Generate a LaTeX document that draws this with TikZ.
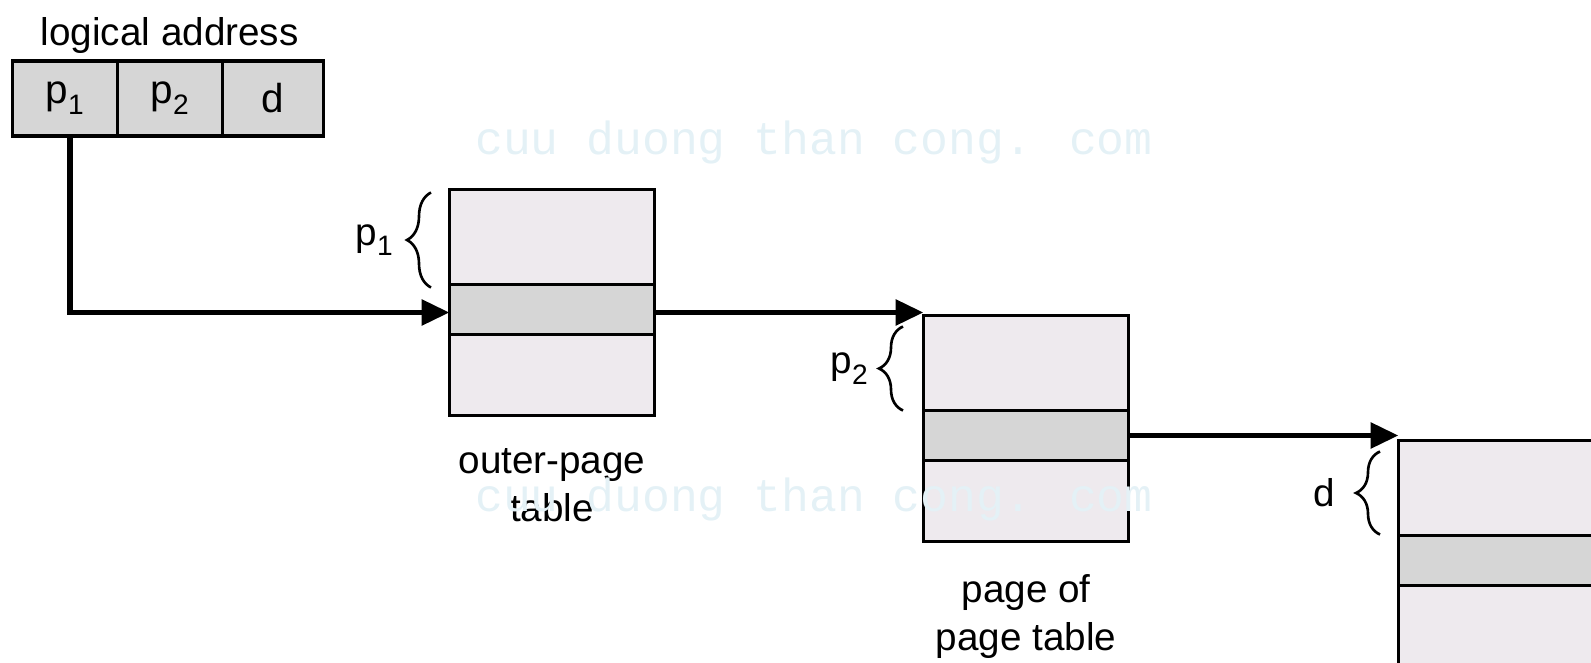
\documentclass[tikz,border=0pt]{standalone}
\usepackage{fontspec}
\setmainfont{Liberation Sans}
\newfontfamily\wmfont{Liberation Mono}
\usetikzlibrary{arrows.meta,positioning,decorations.pathreplacing}
\definecolor{slotgray}{HTML}{D6D6D6}
\definecolor{tablefill}{HTML}{EEEAEE}
\definecolor{wmblue}{HTML}{E4F1F6}
\newcommand{\lowidx}[1]{\raisebox{-0.5ex}{\fontsize{16}{16}\selectfont #1}}
\tikzset{
  cell/.style={draw, line width=1.9pt, fill=slotgray, minimum width=2.1cm, minimum height=1.5cm,
    inner sep=0pt, outer sep=0pt, font=\fontsize{23}{23}\selectfont},
  row/.style={draw, line width=1.9pt, fill=tablefill, minimum width=4.1cm, inner sep=0pt, outer sep=0pt},
  link/.style={line width=3.4pt, -{Triangle[length=0.56cm,width=0.5cm]}},
  brc/.style={decorate, decoration={brace, amplitude=0.48cm}, line width=1.5pt},
  lbl/.style={font=\fontsize{22}{27}\selectfont, inner sep=0pt, align=center},
  wm/.style={font=\wmfont\fontsize{26.4}{26.4}\selectfont, text=wmblue, inner sep=0pt}
}
\begin{document}
\begin{tikzpicture}
    \useasboundingbox (0,0) rectangle (31.82,13.24);
    % logical address
    \node[cell, anchor=north west] (p1cell) at (0.244,12.022) {p\lowidx{1}};
    \node[cell, right=0pt of p1cell] (p2cell) {p\lowidx{2}};
    \node[cell, right=0pt of p2cell, minimum width=2.03cm] (dcell) {d};
    \node[lbl, above=0.15cm of p2cell] (addrlabel) {logical address};
    % outer-page table
    \node[row, minimum height=1.9cm, anchor=north west] (outertop) at (8.99,9.45) {};
    \node[row, minimum height=1.0cm, fill=slotgray, below=0pt of outertop] (outermid) {};
    \node[row, minimum height=1.62cm, below=0pt of outermid] (outerbot) {};
    \node[lbl, below=0.66cm of outerbot] (outerlabel) {outer-page\\table};
    % page of page table
    \node[row, minimum height=1.9cm, anchor=north west] (pagetop) at (18.47,6.93) {};
    \node[row, minimum height=1.0cm, fill=slotgray, below=0pt of pagetop] (pagemid) {};
    \node[row, minimum height=1.62cm, below=0pt of pagemid] (pagebot) {};
    \node[lbl, below=0.66cm of pagebot] (pagelabel) {page of\\page table};
    % desired page
    \node[row, minimum height=1.9cm, anchor=north west] (frametop) at (27.97,4.43) {};
    \node[row, minimum height=1.0cm, fill=slotgray, below=0pt of frametop] (framemid) {};
    \node[row, minimum height=1.62cm, below=0pt of framemid] (framebot) {};
    % braces
    \draw[brc] ([xshift=-0.37cm,yshift=-0.06cm]outertop.south west) -- ([xshift=-0.37cm,yshift=-0.06cm]outertop.north west)
        node[lbl, midway, left=0.74cm] {p\lowidx{1}};
    \draw[brc] ([xshift=-0.41cm,yshift=0.0cm]pagetop.south west) -- ([xshift=-0.41cm,yshift=-0.22cm]pagetop.north west)
        node[lbl, midway, left=0.68cm] {p\lowidx{2}};
    \draw[brc] ([xshift=-0.37cm,yshift=0.02cm]frametop.south west) -- ([xshift=-0.37cm,yshift=-0.22cm]frametop.north west)
        node[lbl, midway, left=0.88cm] {d};
    % links
    \draw[link] ([xshift=0.1cm]p1cell.south) |- ([yshift=-0.06cm]outermid.west);
    \draw[link] ([yshift=-0.06cm]outermid.east) -- ([yshift=-0.06cm]outermid.east -| pagetop.west);
    \draw[link] (pagemid.east) -- (pagemid.east -| frametop.west);
    % watermark
    \node[wm] (wmtop) at (16.28,10.4) {cuu duong than cong. com};
    \node[wm] (wmbot) at (16.28,3.26) {cuu duong than cong. com};
\end{tikzpicture}
\end{document}
